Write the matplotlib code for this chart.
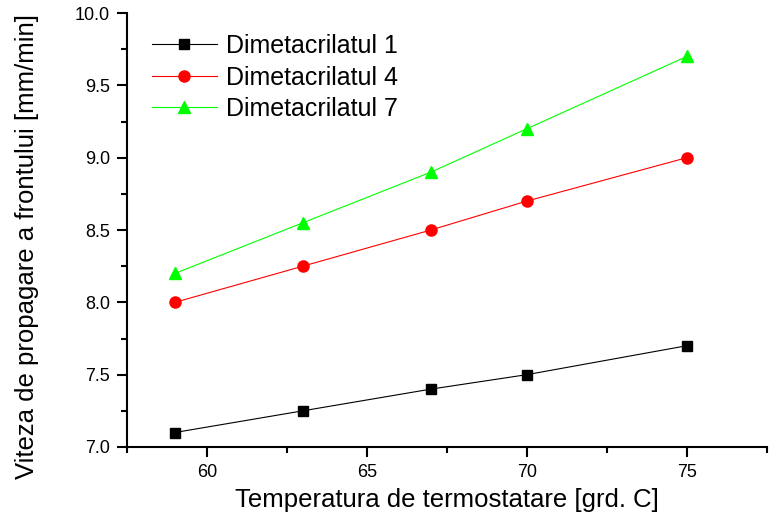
import matplotlib
matplotlib.use("Agg")
import matplotlib.pyplot as plt
from matplotlib.ticker import MultipleLocator, FormatStrFormatter

plt.rcParams['font.family'] = ['Liberation Sans', 'DejaVu Sans']

temperature = [59, 63, 67, 70, 75]
dimetacrilat_1 = [7.1, 7.25, 7.4, 7.5, 7.7]
dimetacrilat_4 = [8.0, 8.25, 8.5, 8.7, 9.0]
dimetacrilat_7 = [8.2, 8.55, 8.9, 9.2, 9.7]
series_labels = ["Dimetacrilatul 1", "Dimetacrilatul 4", "Dimetacrilatul 7"]

fig = plt.figure(figsize=(7.69, 5.25), dpi=100)
ax = fig.add_axes([0.165, 0.1486, 0.832, 0.8265])

ax.plot(temperature, dimetacrilat_1, color="black", marker="s", markersize=7.8,
        linewidth=0.8, label=series_labels[0])
ax.plot(temperature, dimetacrilat_4, color="#ff0000", marker="o", markersize=8,
        linewidth=0.8, label=series_labels[1])
ax.plot(temperature, dimetacrilat_7, color="#00ff00", marker="^", markersize=9,
        linewidth=0.8, label=series_labels[2])

ax.set_xlim(57.5, 77.5)
ax.set_ylim(7.0, 10.0)
ax.xaxis.set_major_locator(MultipleLocator(5))
ax.xaxis.set_minor_locator(MultipleLocator(2.5))
ax.yaxis.set_major_locator(MultipleLocator(0.5))
ax.yaxis.set_minor_locator(MultipleLocator(0.25))
ax.yaxis.set_major_formatter(FormatStrFormatter("%.1f"))

for side in ("top", "right"):
    ax.spines[side].set_visible(False)
for side in ("left", "bottom"):
    ax.spines[side].set_linewidth(1.5)

ax.tick_params(which="major", direction="out", length=7, width=1.5, labelsize=13, pad=5)
ax.tick_params(which="minor", direction="out", length=4, width=1.5)

ax.set_xlabel("Temperatura de termostatare [grd. C]", fontsize=18.5, labelpad=5)
ax.set_ylabel("Viteza de propagare a frontului [mm/min]", fontsize=18.5, labelpad=26)
ax.yaxis.label.set_y(0.463)

ax.legend(loc="upper left", bbox_to_anchor=(0.0, 1.009), frameon=False, fontsize=18,
          handlelength=2.6, handletextpad=0.35, labelspacing=0.3,
          borderaxespad=0.6, borderpad=0.4)

fig.savefig("out.png", dpi=100)
